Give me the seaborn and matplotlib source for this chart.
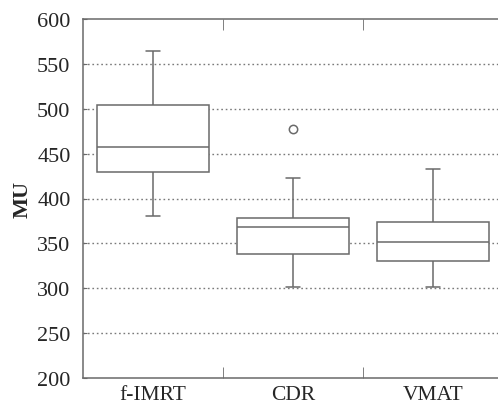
import matplotlib
matplotlib.use("Agg")
import matplotlib.pyplot as plt
import seaborn as sns
import pandas as pd
from matplotlib.ticker import FixedLocator

categories = ["f-IMRT", "CDR", "VMAT"]
# values (9 points each: min, ., Q1, ., median, ., Q3, ., max/outlier)
fimrt_vals = [381, 405, 429, 445, 457, 480, 504, 535, 564]
cdr_vals = [301, 320, 338, 355, 368, 372, 378, 423, 477]
vmat_vals = [301, 316, 330, 340, 351, 362, 374, 405, 433]
y_ticks = [200, 250, 300, 350, 400, 450, 500, 550, 600]

df = pd.DataFrame({
    "group": [categories[0]] * len(fimrt_vals) + [categories[1]] * len(cdr_vals) + [categories[2]] * len(vmat_vals),
    "MU": fimrt_vals + cdr_vals + vmat_vals,
})

sns.set_style("white")
plt.rcParams["font.family"] = ["Liberation Serif", "DejaVu Serif"]

fig = plt.figure(figsize=(4.98, 4.06), dpi=100)
ax = fig.add_axes([83 / 498, 1 - 379 / 406, 420 / 498, 359 / 406])

lc = "#6a6a6a"
sns.boxplot(data=df, x="group", y="MU", order=categories, ax=ax, width=0.8,
            color="white", linecolor=lc, linewidth=1.1,
            flierprops=dict(marker="o", markersize=6, markerfacecolor="white",
                            markeredgecolor=lc, markeredgewidth=1.1),
            capwidths=0.1)

ax.set_ylim(200, 600)
ax.set_xlim(-0.5, 2.5)
ax.set_yticks(y_ticks)
ax.set_yticklabels([str(v) for v in y_ticks], fontsize=16)
ax.tick_params(axis="x", labelsize=15.5, length=0, pad=5)
ax.tick_params(axis="y", direction="in", length=3, color=lc, pad=9, left=True)
ax.xaxis.set_minor_locator(FixedLocator([0.5, 1.5]))
ax.tick_params(axis="x", which="minor", direction="in", length=8, color=lc, top=True, bottom=True)
for gy in y_ticks[1:-1]:
    ax.axhline(gy, color="#7a7a7a", linestyle=(0, (1.2, 2.0)), linewidth=1.0, zorder=0)
ax.set_xlabel("")
ax.set_ylabel("MU", fontsize=16, fontweight="bold", labelpad=3)
for s in ax.spines.values():
    s.set_color(lc)
    s.set_linewidth(1.1)
    s.set_visible(True)

fig.savefig("out.png", dpi=100)
